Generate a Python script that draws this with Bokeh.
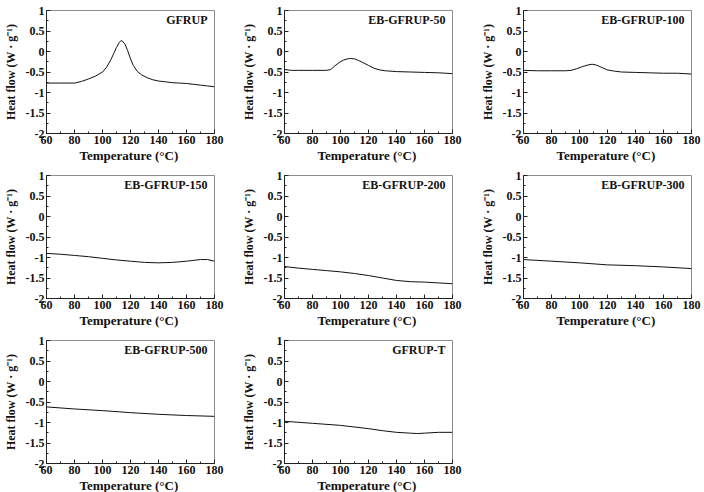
from bokeh.plotting import figure
from bokeh.layouts import gridplot
from bokeh.models import FixedTicker, CustomJSTickFormatter, Range1d
from bokeh.core.properties import value
from bokeh.embed import file_html
from bokeh.resources import INLINE

# ---- data ----
names = ["GFRUP", "EB-GFRUP-50", "EB-GFRUP-100", "EB-GFRUP-150",
         "EB-GFRUP-200", "EB-GFRUP-300", "EB-GFRUP-500", "GFRUP-T"]

t_gfrup = [60, 70, 80, 85, 90, 95, 100, 103, 106, 108, 110, 112, 113, 114, 116, 118, 120,
           122, 125, 128, 132, 136, 140, 145, 150, 155, 160, 165, 170, 175, 180]
h_gfrup = [-0.77, -0.77, -0.77, -0.73, -0.67, -0.60, -0.50, -0.38, -0.20, -0.05, 0.10, 0.22,
           0.26, 0.26, 0.18, 0.02, -0.18, -0.34, -0.49, -0.57, -0.64, -0.69, -0.72, -0.74,
           -0.76, -0.77, -0.78, -0.80, -0.82, -0.84, -0.86]

t_50 = [60, 65, 70, 80, 90, 93, 96, 99, 102, 105, 107, 110, 113, 116, 120, 124, 128, 132,
        140, 150, 160, 170, 180]
h_50 = [-0.44, -0.46, -0.46, -0.46, -0.46, -0.44, -0.35, -0.27, -0.21, -0.18, -0.17, -0.18,
        -0.22, -0.27, -0.34, -0.41, -0.45, -0.47, -0.49, -0.50, -0.51, -0.52, -0.54]

t_100 = [60, 70, 80, 90, 94, 98, 102, 106, 109, 112, 116, 120, 125, 130, 140, 150, 160, 170, 180]
h_100 = [-0.46, -0.47, -0.47, -0.47, -0.46, -0.42, -0.37, -0.33, -0.31, -0.33, -0.39, -0.45,
         -0.48, -0.50, -0.51, -0.52, -0.53, -0.53, -0.55]

t_150 = [60, 70, 80, 90, 100, 110, 120, 130, 140, 150, 160, 165, 170, 175, 180]
h_150 = [-0.90, -0.92, -0.95, -0.98, -1.02, -1.06, -1.09, -1.12, -1.13, -1.12, -1.09, -1.07,
         -1.05, -1.05, -1.09]

t_200 = [60, 70, 80, 90, 100, 110, 120, 130, 140, 150, 160, 170, 180]
h_200 = [-1.22, -1.26, -1.29, -1.32, -1.35, -1.39, -1.44, -1.50, -1.56, -1.59, -1.60, -1.62, -1.64]

t_300 = [60, 80, 100, 120, 140, 160, 180]
h_300 = [-1.05, -1.09, -1.13, -1.18, -1.20, -1.23, -1.27]

t_500 = [60, 80, 100, 120, 140, 160, 180]
h_500 = [-0.62, -0.67, -0.71, -0.76, -0.80, -0.83, -0.85]

t_T = [60, 80, 100, 120, 130, 140, 150, 155, 160, 170, 180]
h_T = [-0.97, -1.02, -1.07, -1.15, -1.20, -1.24, -1.26, -1.27, -1.26, -1.24, -1.24]

series = [(t_gfrup, h_gfrup), (t_50, h_50), (t_100, h_100), (t_150, h_150),
          (t_200, h_200), (t_300, h_300), (t_500, h_500), (t_T, h_T)]

x_ticks = [60, 80, 100, 120, 140, 160, 180]
y_ticks = [-2, -1.5, -1, -0.5, 0, 0.5, 1]

FONT = "Liberation Serif"
FONT_V = value(FONT)
col_left = [45, 48, 53]
col_right = [22, 18, 13]
row_bottom = [32, 32, 29]

def make_panel(i, t, h, name):
    r, c = divmod(i, 3)
    p = figure(frame_width=168, frame_height=123,
               min_border_left=col_left[c], min_border_right=col_right[c],
               min_border_top=10, min_border_bottom=row_bottom[r],
               x_range=Range1d(60, 180), y_range=Range1d(-2, 1),
               output_backend="svg", toolbar_location=None)
    p.line(t, h, line_color="#111111", line_width=1)
    p.text(x=[175], y=[0.77], text=[name], text_align="right", text_baseline="middle",
           text_font=FONT_V, text_font_style="bold", text_font_size="12px", text_color="#111111")
    p.grid.visible = False
    p.outline_line_color = "#8c8c8c"
    p.outline_line_width = 1
    p.xaxis.ticker = FixedTicker(ticks=x_ticks, minor_ticks=list(range(60, 181, 10)))
    p.yaxis.ticker = FixedTicker(ticks=y_ticks, minor_ticks=[-2 + 0.25 * k for k in range(13)])
    p.yaxis.formatter = CustomJSTickFormatter(code="return String(Math.round(tick*100)/100);")
    p.xaxis.axis_label = "Temperature  (°C)"
    p.yaxis.axis_label = "Heat flow (W · g⁻¹)"
    for ax in (p.xaxis, p.yaxis):
        ax.axis_line_color = "#222222"
        ax.major_tick_line_color = "#222222"
        ax.minor_tick_line_color = "#222222"
        ax.major_tick_in = 4
        ax.major_tick_out = 0
        ax.minor_tick_in = 2
        ax.minor_tick_out = 0
        ax.major_label_text_font = FONT
        ax.major_label_text_font_style = "bold"
        ax.major_label_text_font_size = "12px"
        ax.major_label_text_color = "#111111"
        ax.axis_label_text_font = FONT
        ax.axis_label_text_font_style = "bold"
        ax.axis_label_text_color = "#111111"
        ax.major_label_standoff = 2
    p.xaxis.axis_label_text_font_size = "13px"
    p.yaxis.axis_label_text_font_size = "12px"
    p.xaxis.axis_label_standoff = 1
    p.yaxis.axis_label_standoff = 5
    return p

panels = [make_panel(i, t, h, n) for i, ((t, h), n) in enumerate(zip(series, names))]
grid = gridplot([[panels[0], panels[1], panels[2]],
                 [panels[3], panels[4], panels[5]],
                 [panels[6], panels[7], None]], toolbar_location=None)

open("out.html", "w").write(file_html(grid, INLINE))
